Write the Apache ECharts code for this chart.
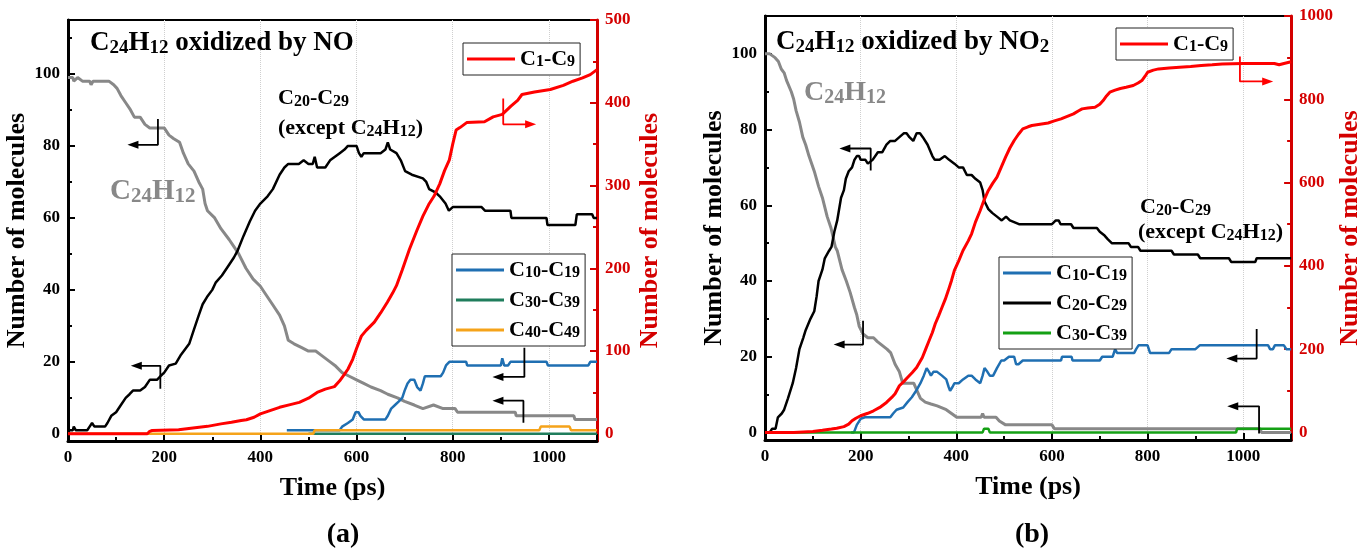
<!DOCTYPE html>
<html><head><meta charset="utf-8">
<script src="https://cdn.jsdelivr.net/npm/echarts@6/dist/echarts.min.js"></script>
<style>html,body{margin:0;padding:0;background:#fff}#c{width:1364px;height:550px}</style>
</head><body><div id="c"></div><script>
// ---------- DATA: panel (a) C24H12 oxidized by NO ----------
const a_C24H12 = [[0,99],[10,99],[12,98],[20,99],[30,98],[45,98],[48,97],[52,98],[85,98],[95,97],[102,96],[110,94],[120,92],[130,90],[138,88],[150,88],[160,86],[170,85],[200,85],[210,83],[220,82],[232,81],[240,78],[250,75],[262,73],[272,70],[280,68],[285,64],[290,62],[305,60],[318,57],[335,54],[345,52],[355,50],[370,46],[385,43],[400,41],[410,39],[425,36],[440,33],[450,30],[458,26],[470,25],[485,24],[500,23],[515,23],[525,22],[545,20],[555,19],[570,17],[585,16],[600,15],[615,14],[630,13],[650,12],[665,11],[685,10],[700,9],[720,8],[738,7],[760,8],[780,7],[805,7],[810,6],[930,6],[932,5],[1000,5],[1002,4.5],[1006,5],[1052,5],[1054,4],[1100,4]];
const a_C20_C29 = [[0,1],[10,1],[12,2],[16,1],[40,1],[45,2],[50,3],[55,2],[77,2],[82,3],[90,5],[100,6],[110,8],[120,10],[128,11],[135,12],[150,12],[160,13],[170,15],[185,15],[192,16],[200,17],[210,19],[224,19.5],[235,22],[252,25],[262,29],[272,33],[280,36],[289,38],[300,40],[307,42],[320,44],[335,47],[345,49],[353,51],[365,55],[378,59],[389,62],[400,64],[415,66],[426,68],[440,72],[450,74],[458,75],[480,75],[490,76],[500,75],[509,75],[513,77],[518,74],[535,74],[545,76],[555,77],[565,78],[575,79],[582,80],[600,80],[605,78],[610,77],[615,78],[650,78],[660,79],[665,81],[670,79],[683,78],[692,76],[701,73],[715,72],[738,71],[745,70],[751,68],[765,67],[773,66],[785,64],[792,62],[800,63],[860,63],[867,62],[920,62],[922,60],[995,60],[997,58],[1055,58],[1058,61],[1090,61],[1093,60],[1100,60]];
const a_C10_C19 = [[455,1],[565,1],[570,2],[582,3],[592,4],[598,6],[604,6],[608,5],[615,4],[660,4],[665,5],[672,7],[680,8],[688,9],[695,10],[700,12],[706,14],[712,15],[720,15],[726,13],[733,12],[738,14],[742,16],[775,16],[780,17],[786,19],[793,20],[828,20],[830,19],[900,19],[903,21],[907,19],[915,19],[920,20],[995,20],[998,19],[1082,19],[1086,20],[1100,20]];
const a_C30_C39 = [[500,0],[1100,0]];
const a_C40_C49 = [[0,0],[510,0],[513,1],[980,1],[983,2],[1043,2],[1046,1],[1100,1]];
const a_C1_C9 = [[0,0],[165,0],[170,3],[175,4],[230,5],[260,7],[290,9],[318,12],[340,14],[360,16],[371,17],[387,20],[400,24],[420,28],[440,32],[460,35],[481,38],[500,43],[518,50],[535,54],[554,57],[565,64],[575,72],[582,78],[592,90],[600,103],[610,118],[620,125],[637,135],[650,146],[664,159],[675,170],[683,179],[695,198],[710,223],[725,245],[738,263],[750,277],[761,287],[773,302],[783,318],[793,331],[800,350],[807,367],[815,370],[829,376],[866,377],[884,383],[903,386],[921,396],[935,403],[944,410],[970,413],[1003,416],[1030,421],[1050,426],[1070,430],[1086,434],[1100,440]];

// ---------- DATA: panel (b) C24H12 oxidized by NO2 ----------
const b_C24H12 = [[0,100],[10,100],[21,99],[28,98],[34,96],[40,95],[45,93],[55,90],[60,88],[65,85],[72,82],[79,78],[85,76],[92,73],[103,69],[112,65],[120,62],[130,57],[138,54],[147,49],[151,48],[161,43],[170,40],[178,37],[187,33],[192,31],[197,28],[205,26],[215,25],[227,25],[235,24],[245,23],[255,22],[263,21],[272,18],[281,16],[288,13],[311,13],[318,11],[325,9],[335,8],[347,7.5],[360,7],[379,6],[390,5],[401,4],[452,4],[455,5],[458,4],[483,4],[490,3],[503,2],[600,2],[605,1],[1035,1],[1038,0],[1100,0]];
const b_C20_C29 = [[0,0],[10,0],[15,1],[22,1],[27,4],[35,5],[40,6],[48,9],[58,13],[65,17],[72,22],[80,25],[85,27],[95,30],[103,32],[108,36],[112,40],[120,43],[125,46],[134,48],[139,49],[145,53],[151,56],[159,62],[165,64],[169,67],[175,69],[182,70],[187,72],[192,73],[197,73],[200,72],[210,72],[215,71],[225,72],[236,74],[245,74],[254,76],[262,77],[272,77],[281,78],[290,79],[296,79],[302,78],[310,77],[317,79],[324,79],[330,78],[340,76],[350,73],[355,72],[365,72],[376,73],[385,72],[396,71],[405,70],[414,70],[422,68],[432,68],[440,67],[450,66],[455,64],[459,61],[463,60],[467,59],[475,58],[485,57],[495,56],[504,57],[512,56],[531,55],[600,55],[608,56],[614,56],[618,55],[640,55],[645,54],[694,54],[700,53],[710,52],[717,51],[725,50],[760,50],[765,49],[780,49],[785,48],[850,48],[855,47],[905,47],[910,46],[970,46],[975,45],[1025,45],[1028,46],[1100,46]];
const b_C10_C19 = [[180,0],[186,0],[192,2],[200,3.6],[209,4],[262,4],[268,5],[275,6],[289,6.6],[298,8],[307,9.3],[316,11],[325,13],[332,15],[338,17],[343,16],[347,15],[352,16],[360,16],[370,15],[379,14],[384,12],[387,11],[392,12],[396,13],[405,13],[414,14],[425,15],[432,15],[440,14],[450,13],[455,15],[459,17],[465,16],[470,15],[477,15],[485,17],[494,19],[500,19],[510,20],[521,20],[525,18],[530,18],[539,19],[619,19],[621,20],[641,20],[643,19],[700,19],[705,20],[727,20],[732,22],[736,21],[772,21],[776,22],[781,23],[800,23],[805,21],[845,21],[850,22],[900,22],[909,23],[1052,23],[1056,22],[1062,22],[1066,23],[1085,23],[1090,22],[1100,22]];
const b_C30_C39 = [[0,0],[455,0],[458,1],[467,1],[470,0],[985,0],[987,1],[1100,1]];
const b_C1_C9 = [[0,0],[60,0],[100,2],[120,5],[139,8],[150,10],[165,14],[175,20],[182,28],[190,34],[200,40],[215,46],[227,52],[240,60],[254,72],[265,84],[272,93],[281,112],[290,122],[298,132],[308,144],[317,156],[329,180],[336,200],[343,220],[350,240],[356,261],[363,280],[370,300],[377,320],[383,340],[390,365],[396,389],[405,412],[414,437],[418,441],[425,460],[432,477],[440,505],[450,533],[458,558],[467,581],[476,598],[485,613],[494,637],[503,661],[512,683],[521,701],[530,716],[539,729],[550,734],[558,737],[575,740],[592,743],[605,748],[619,753],[632,759],[645,765],[655,772],[663,777],[675,779],[690,781],[700,788],[707,797],[714,808],[721,817],[732,822],[743,826],[755,829],[770,833],[780,839],[788,845],[795,856],[800,865],[812,870],[823,873],[845,875],[867,877],[890,879],[912,881],[935,883],[956,885],[1000,886],[1040,886],[1065,886],[1075,883],[1085,886],[1100,890]];

// ---------- TICKS ----------
const xTicks = [0,200,400,600,800,1000];
const aLeftTicks = [0,20,40,60,80,100];
const aLeftMinor = [10,30,50,70,90,110];
const aRightTicks = [0,100,200,300,400,500];
const aRightMinor = [50,150,250,350,450];
const bLeftTicks = [0,20,40,60,80,100];
const bLeftMinor = [10,30,50,70,90];
const bRightTicks = [0,200,400,600,800,1000];
const bRightMinor = [100,300,500,700,900];

// ---------- ANNOTATION ARROWS (data coordinates) ----------
const aArrows = [
  {side:'left', corner:[187,80.3], vEnd:87.5, hEnd:135},
  {side:'left', corner:[192,18.9], vEnd:12.5, hEnd:142},
  {side:'left', corner:[949,15.8], vEnd:23.9, hEnd:894},
  {side:'left', corner:[947,9.2], vEnd:3.1, hEnd:894},
  {side:'right', corner:[905,374], vEnd:405, hEnd:962}
];
const bArrows = [
  {side:'left', corner:[221,75], vEnd:69.2, hEnd:167},
  {side:'left', corner:[205,23.2], vEnd:29.5, hEnd:155},
  {side:'left', corner:[1028,19.5], vEnd:27.3, hEnd:976},
  {side:'left', corner:[1033,6.9], vEnd:-0.3, hEnd:978},
  {side:'right', corner:[993,843], vEnd:903, hEnd:1051}
];

// ---------- STYLE ----------
const FONT = '"Liberation Serif","Times New Roman",serif';
const AXRED = '#d40000';
const COL = {grey:'#888888', black:'#000000', blue:'#1f6fb2', teal:'#1f7d5c', orange:'#f5a31a', red:'#ff0000', green:'#14a014'};
const plain = v => String(v);

function toRich(str){
  return str.split(/(\d+)/).filter(t=>t!=='').map(t=>/^\d+$/.test(t)?'{s|'+t+'}':'{n|'+t+'}').join('');
}
function richEc(size, color){
  return {
    n:{fontFamily:FONT,fontWeight:'bold',fontSize:size,color:color,lineHeight:size},
    s:{fontFamily:FONT,fontWeight:'bold',fontSize:Math.round(size*0.72),color:color,lineHeight:Math.round(size*0.8),verticalAlign:'bottom'}
  };
}
function richZr(size, color){
  return {
    n:{fontFamily:FONT,fontWeight:'bold',fontSize:size,fill:color,lineHeight:size+2},
    s:{fontFamily:FONT,fontWeight:'bold',fontSize:Math.round(size*0.72),fill:color,lineHeight:Math.round(size*0.8),verticalAlign:'bottom'}
  };
}
function textEl(str, x, y, size, color, align){
  return {type:'text', x:x, y:y, silent:true, z:10,
    style:{text:toRich(str), rich:richZr(size,color), align:align||'left', verticalAlign:'middle'}};
}

function xAxisCfg(grid){
  return {
    type:'value', gridIndex:grid, min:0, max:1100, interval:200, position:'bottom',
    name:'Time (ps)', nameLocation:'middle', nameGap:34,
    nameTextStyle:{fontFamily:FONT,fontWeight:'bold',fontSize:26,color:'#000'},
    axisLine:{show:true,onZero:false,lineStyle:{color:'#000',width:3}},
    axisTick:{show:true,inside:true,length:7,lineStyle:{color:'#000',width:2}},
    minorTick:{show:true,splitNumber:2,length:4,lineStyle:{color:'#000',width:2}},
    axisLabel:{fontFamily:FONT,fontWeight:'bold',fontSize:17,color:'#000',margin:8,showMaxLabel:false,showMinLabel:true,formatter:plain},
    splitLine:{show:true,lineStyle:{type:'dotted',color:'#cfcfcf',width:1}}
  };
}
function yAxisCfg(grid, pos, min, max, ticks, color, name, gap){
  return {
    type:'value', gridIndex:grid, position:pos, min:min, max:max,
    name:name, nameLocation:'middle', nameGap:gap,
    nameTextStyle:{fontFamily:FONT,fontWeight:'bold',fontSize:26,color:color},
    axisLine:{show:true,onZero:false,lineStyle:{color:color,width:3}},
    axisTick:{show:true,inside:true,length:7,customValues:ticks,lineStyle:{color:color,width:2}},
    axisLabel:{fontFamily:FONT,fontWeight:'bold',fontSize:17,color:color,margin:8,customValues:ticks,formatter:plain},
    splitLine:{show:false}
  };
}
function yMinorCfg(grid, pos, min, max, ticks, color){
  return {
    type:'value', gridIndex:grid, position:pos, min:min, max:max,
    axisLine:{show:false,onZero:false},
    axisTick:{show:true,inside:true,length:4,customValues:ticks,lineStyle:{color:color,width:2}},
    axisLabel:{show:false},
    splitLine:{show:false}
  };
}
function lineSeries(name, data, xi, yi, color, width){
  return {type:'line', name:name, data:data, xAxisIndex:xi, yAxisIndex:yi,
    color:color, symbol:'none', showSymbol:false, silent:true,
    lineStyle:{color:color,width:width}, z:2};
}
function arrowSeries(arr, xi, yi, color){
  const cx = arr.corner[0], cy = arr.corner[1];
  const leftward = arr.hEnd < cx;
  return {type:'line', xAxisIndex:xi, yAxisIndex:yi, silent:true, z:4,
    symbol:'none', showSymbol:true, color:color,
    lineStyle:{color:color,width:1.8}, itemStyle:{color:color},
    data:[[cx,arr.vEnd],[cx,cy],{value:[arr.hEnd,cy],symbol:'triangle',symbolSize:[8,11],symbolRotate:leftward?90:-90}]};
}
function legendCfg(names, left, top){
  return {
    data:names, left:left, top:top, orient:'vertical', selectedMode:false,
    icon:'rect', itemWidth:48, itemHeight:3, itemGap:8,
    padding:[5,5,5,4], borderColor:'#222', borderWidth:1, backgroundColor:'#fff',
    formatter:function(n){return toRich(n.slice(2));},
    textStyle:{rich:richEc(22,'#000')}
  };
}

const aRightMin = -500*2/115;
const bRightMin = -1000*2/110;

const series = [
  lineSeries('a:C24H12', a_C24H12, 0, 0, COL.grey, 3),
  lineSeries('a:C20-C29', a_C20_C29, 0, 0, COL.black, 2.5),
  lineSeries('a:C10-C19', a_C10_C19, 0, 0, COL.blue, 2.5),
  lineSeries('a:C30-C39', a_C30_C39, 0, 0, COL.teal, 2.5),
  lineSeries('a:C40-C49', a_C40_C49, 0, 0, COL.orange, 2.5),
  lineSeries('a:C1-C9', a_C1_C9, 0, 1, COL.red, 3),
  lineSeries('b:C24H12', b_C24H12, 1, 4, COL.grey, 3),
  lineSeries('b:C20-C29', b_C20_C29, 1, 4, COL.black, 2.5),
  lineSeries('b:C10-C19', b_C10_C19, 1, 4, COL.blue, 2.5),
  lineSeries('b:C30-C39', b_C30_C39, 1, 4, COL.green, 2.5),
  lineSeries('b:C1-C9', b_C1_C9, 1, 5, COL.red, 3)
];
aArrows.forEach(a=>series.push(arrowSeries(a, 0, a.side==='left'?0:1, a.side==='left'?'#000':COL.red)));
bArrows.forEach(a=>series.push(arrowSeries(a, 1, a.side==='left'?4:5, a.side==='left'?'#000':COL.red)));

const option = {
  animation:false,
  backgroundColor:'#fff',
  grid:[
    {left:68, right:767, top:20, bottom:109, show:true, borderColor:'#000', borderWidth:2, backgroundColor:'transparent'},
    {left:765, right:66, top:16, bottom:110, show:true, borderColor:'#000', borderWidth:2, backgroundColor:'transparent'}
  ],
  xAxis:[xAxisCfg(0), xAxisCfg(1)],
  yAxis:[
    yAxisCfg(0,'left',-2,115,aLeftTicks,'#000','Number of molecules',30),
    yAxisCfg(0,'right',aRightMin,500,aRightTicks,AXRED,'Number of molecules',40),
    yMinorCfg(0,'left',-2,115,aLeftMinor,'#000'),
    yMinorCfg(0,'right',aRightMin,500,aRightMinor,AXRED),
    yAxisCfg(1,'left',-2,110,bLeftTicks,'#000','Number of molecules',28),
    yAxisCfg(1,'right',bRightMin,1000,bRightTicks,AXRED,'Number of molecules',38),
    yMinorCfg(1,'left',-2,110,bLeftMinor,'#000'),
    yMinorCfg(1,'right',bRightMin,1000,bRightMinor,AXRED)
  ],
  legend:[
    legendCfg(['a:C1-C9'], 463, 43),
    legendCfg(['a:C10-C19','a:C30-C39','a:C40-C49'], 452, 254),
    legendCfg(['b:C1-C9'], 1116, 28),
    legendCfg(['b:C10-C19','b:C20-C29','b:C30-C39'], 999, 257)
  ],
  graphic:[
    textEl('C24H12 oxidized by NO', 90, 43, 27, '#000'),
    textEl('C20-C29', 278, 98, 22, '#000'),
    textEl('(except C24H12)', 278, 128, 22, '#000'),
    textEl('C24H12', 110, 192, 29, COL.grey),
    textEl('C24H12 oxidized by NO2', 776, 42, 27, '#000'),
    textEl('C24H12', 804, 93, 28, COL.grey),
    textEl('C20-C29', 1140, 207, 22, '#000'),
    textEl('(except C24H12)', 1138, 232, 22, '#000'),
    {type:'text', x:343, y:535, silent:true, style:{text:'(a)', font:'bold 28px '+FONT, fill:'#000', align:'center', verticalAlign:'middle'}},
    {type:'text', x:1032, y:535, silent:true, style:{text:'(b)', font:'bold 28px '+FONT, fill:'#000', align:'center', verticalAlign:'middle'}}
  ],
  series:series
};
const chart = echarts.init(document.getElementById('c'));
chart.setOption(option);
</script></body></html>
